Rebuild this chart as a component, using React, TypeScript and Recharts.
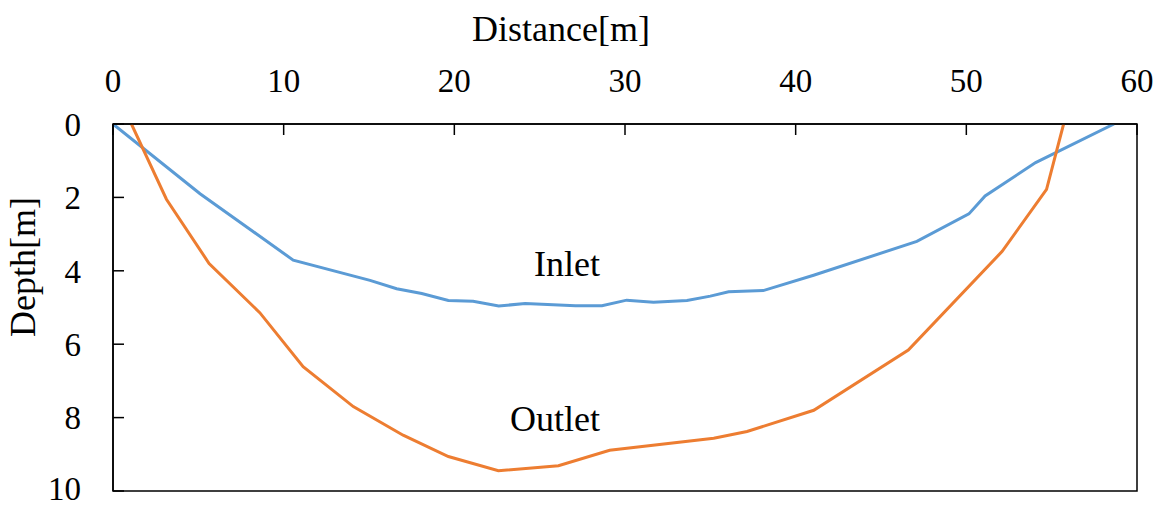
import React from 'react';
import { LineChart, Line, XAxis, YAxis, ReferenceArea, ReferenceDot } from 'recharts';

const inletDistance = [0, 5.1, 10.56, 15.06, 16.62, 18.09, 19.65, 21.1, 22.6, 24.15, 27.1, 28.65, 30.1, 31.67, 33.63, 35.0, 36.07, 38.1, 41.05, 47.1, 50.15, 51.1, 54.06, 58.65];
const inletDepth = [0, 1.9, 3.71, 4.26, 4.49, 4.62, 4.81, 4.83, 4.96, 4.89, 4.95, 4.95, 4.8, 4.86, 4.81, 4.69, 4.57, 4.54, 4.12, 3.2, 2.45, 1.96, 1.05, 0];

const outletDistance = [1.08, 3.13, 5.63, 8.6, 11.14, 14.08, 17.0, 19.65, 22.58, 26.1, 29.1, 35.2, 37.15, 41.06, 46.6, 52.1, 54.7, 55.7];
const outletDepth = [0, 2.05, 3.8, 5.14, 6.61, 7.7, 8.48, 9.06, 9.45, 9.31, 8.89, 8.56, 8.38, 7.8, 6.16, 3.47, 1.78, 0];

const xTicks = [0, 10, 20, 30, 40, 50, 60];
const yTicks = [0, 2, 4, 6, 8, 10];

const inletData = inletDistance.map((x, i) => ({ x, d: inletDepth[i] }));
const outletData = outletDistance.map((x, i) => ({ x, d: outletDepth[i] }));

const FONT = '"Liberation Serif", "Times New Roman", serif';
const tickStyle = { fill: '#000', fontSize: 33, fontFamily: FONT };

export default function App() {
  return (
    <div style={{ position: 'absolute', left: 0, top: 0, width: 1163, height: 507, background: '#fff' }}>
      <LineChart width={1163} height={507} margin={{ top: 0, right: 26, bottom: 16, left: 0 }}>
        <XAxis
          type="number"
          dataKey="x"
          orientation="top"
          domain={[0, 60]}
          ticks={xTicks}
          height={124}
          tickSize={-11}
          tickMargin={43}
          tick={tickStyle}
          axisLine={{ stroke: '#000', strokeWidth: 1.5 }}
          tickLine={{ stroke: '#000', strokeWidth: 1.5 }}
          allowDataOverflow
        />
        <YAxis
          type="number"
          dataKey="d"
          reversed
          domain={[0, 10]}
          ticks={yTicks}
          width={113}
          tickSize={-11}
          tickMargin={43}
          tick={tickStyle}
          axisLine={{ stroke: '#000', strokeWidth: 1.5 }}
          tickLine={{ stroke: '#000', strokeWidth: 1.5 }}
          allowDataOverflow
        />
        <ReferenceArea x1={0} x2={60} y1={0} y2={10} fill="none" stroke="#000" strokeWidth={1.5} />
        <Line data={inletData} dataKey="d" type="linear" stroke="#5B9BD5" strokeWidth={3} dot={false} isAnimationActive={false} />
        <Line data={outletData} dataKey="d" type="linear" stroke="#ED7D31" strokeWidth={3} dot={false} isAnimationActive={false} />
        <ReferenceDot x={26.6} y={3.78} r={0} fill="none" stroke="none"
          label={{ value: 'Inlet', position: 'center', fill: '#000', fontSize: 36, fontFamily: FONT }} />
        <ReferenceDot x={25.9} y={8.02} r={0} fill="none" stroke="none"
          label={{ value: 'Outlet', position: 'center', fill: '#000', fontSize: 36, fontFamily: FONT }} />
        <text x={561} y={41} textAnchor="middle" fontSize={36} fontFamily={FONT} fill="#000">Distance[m]</text>
        <text x={35} y={267} textAnchor="middle" fontSize={36} fontFamily={FONT} fill="#000" transform="rotate(-90, 35, 267)">Depth[m]</text>
      </LineChart>
    </div>
  );
}
